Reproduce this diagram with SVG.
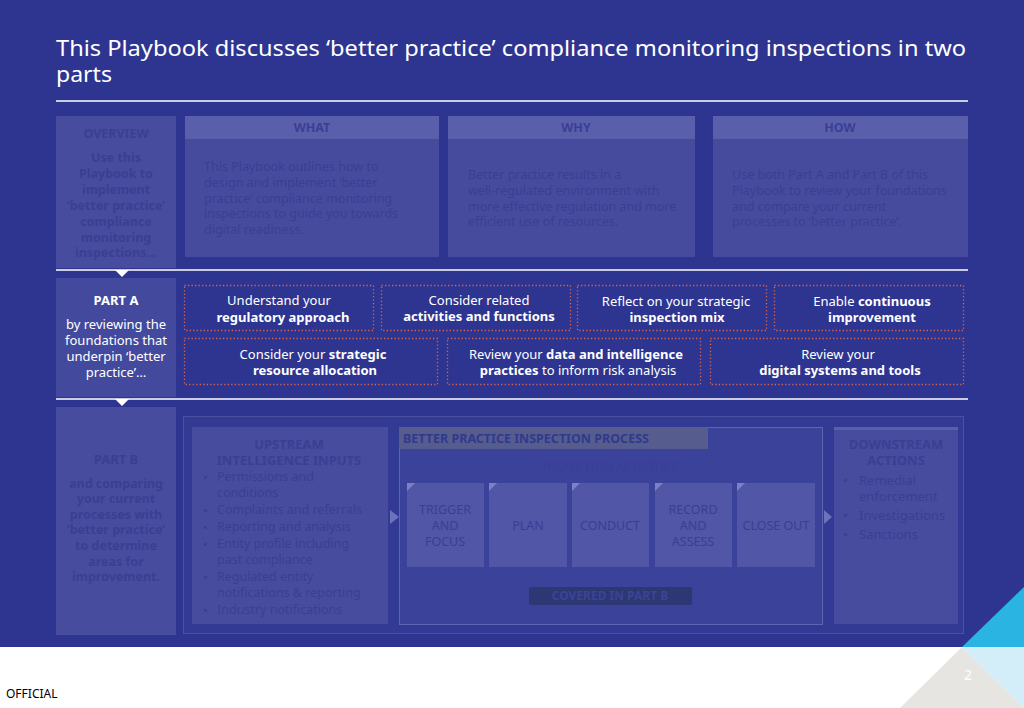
<svg xmlns="http://www.w3.org/2000/svg" width="1024" height="708" viewBox="0 0 1024 708">
<defs>
<style>
text{font-family:"Noto Sans","Open Sans","Liberation Sans",sans-serif}
.t{fill:#fff}
.f{fill:#3A3F95}
.fb{fill:#3A3F95;font-weight:bold}
.b{font-weight:bold}
.c{text-anchor:middle}
.dot{fill:none;stroke:#D9634F;stroke-width:1.3;stroke-dasharray:1.3 2.2}
.act{fill:#5156A6}
.corner{fill:#7C81C6}
.arw{fill:#6D72BC}
</style>
</defs>
<rect x="0" y="0" width="1024" height="708" fill="#fff"/>
<rect x="0" y="0" width="1024" height="647" fill="#2E3590"/>
<!-- decoration bottom right -->
<polygon points="1024,587 962,647 1024,647" fill="#29B4E1"/>
<polygon points="962,647 1024,647 1024,708" fill="#D3EEF8"/>
<polygon points="962,647 900,708 1024,708" fill="#E6E5E1"/>
<text x="968" y="680" font-size="14" fill="#fff" class="c">2</text>
<text x="6" y="698" font-size="12" fill="#000">OFFICIAL</text>

<!-- title -->
<g id="title">
<text x="56" y="56" font-size="22" class="t" textLength="910" lengthAdjust="spacingAndGlyphs">This Playbook discusses ‘better practice’ compliance monitoring inspections in two</text>
<text x="56" y="82" font-size="22" class="t" textLength="56" lengthAdjust="spacingAndGlyphs">parts</text>
</g>
<g id="dividers">
<line x1="56" y1="101" x2="968" y2="101" stroke="#fff" stroke-width="1.5"/>
<line x1="56" y1="270" x2="968" y2="270" stroke="#fff" stroke-width="1.5"/>
<polygon points="115,270 129,270 122,277" fill="#fff"/>
<line x1="56" y1="399" x2="968" y2="399" stroke="#fff" stroke-width="1.5"/>
<polygon points="115,399 129,399 122,406" fill="#fff"/>
</g>

<!-- overview -->
<g id="overview">
<rect x="56" y="116" width="120" height="152" fill="#474C9E"/>
<text x="116" y="138" font-size="12.5" class="fb c">OVERVIEW</text>
<g font-size="12.5" class="fb c">
<text x="116" y="162">Use this</text>
<text x="116" y="178">Playbook to</text>
<text x="116" y="194">implement</text>
<text x="116" y="210">‘better practice’</text>
<text x="116" y="226">compliance</text>
<text x="116" y="242">monitoring</text>
<text x="116" y="257">inspections…</text>
</g>
</g>
<g id="what">
<rect x="185" y="116" width="254" height="141" fill="#464B9E"/>
<rect x="185" y="116" width="254" height="23" fill="#5A5FAB"/>
<text x="312" y="132" font-size="12.5" class="fb c">WHAT</text>
<g font-size="12.5" class="f">
<text x="204" y="171">This Playbook outlines how to</text>
<text x="204" y="187">design and implement ‘better</text>
<text x="204" y="203">practice’ compliance monitoring</text>
<text x="204" y="218">inspections to guide you towards</text>
<text x="204" y="234">digital readiness.</text>
</g>
</g>
<g id="why">
<rect x="448" y="116" width="247" height="141" fill="#464B9E"/>
<rect x="448" y="116" width="247" height="23" fill="#5A5FAB"/>
<text x="576" y="132" font-size="12.5" class="fb c">WHY</text>
<g font-size="12.5" class="f">
<text x="468" y="179">Better practice results in a</text>
<text x="468" y="195">well-regulated environment with</text>
<text x="468" y="211">more effective regulation and more</text>
<text x="468" y="226">efficient use of resources.</text>
</g>
</g>
<g id="how">
<rect x="713" y="116" width="255" height="141" fill="#464B9E"/>
<rect x="713" y="116" width="255" height="23" fill="#5A5FAB"/>
<text x="840" y="132" font-size="12.5" class="fb c">HOW</text>
<g font-size="12.5" class="f">
<text x="732" y="179">Use both Part A and Part B of this</text>
<text x="732" y="195">Playbook to review your foundations</text>
<text x="732" y="211">and compare your current</text>
<text x="732" y="226">processes to ‘better practice’.</text>
</g>
</g>

<!-- part A -->
<g id="partA">
<rect x="56" y="278" width="120" height="119" fill="#434A9E"/>
<text x="116" y="305" font-size="13" class="t b c">PART A</text>
<g font-size="13" class="t c">
<text x="116" y="329">by reviewing the</text>
<text x="116" y="345">foundations that</text>
<text x="116" y="361">underpin ‘better</text>
<text x="116" y="377">practice’…</text>
</g>
</g>
<g font-size="13" class="t c">
<g id="a1"><rect class="dot" x="184.5" y="285.5" width="189" height="45"/>
<text x="279" y="305">Understand your</text><text x="283" y="322" class="b">regulatory approach</text></g>
<g id="a2"><rect class="dot" x="381.5" y="285.5" width="189" height="45"/>
<text x="479" y="305">Consider related</text><text x="479" y="321" class="b">activities and functions</text></g>
<g id="a3"><rect class="dot" x="577.5" y="285.5" width="189" height="45"/>
<text x="676" y="306">Reflect on your strategic</text><text x="677" y="322" class="b">inspection mix</text></g>
<g id="a4"><rect class="dot" x="774.5" y="285.5" width="189" height="45"/>
<text x="872" y="306">Enable <tspan class="b">continuous</tspan></text><text x="872" y="322" class="b">improvement</text></g>
<g id="a5"><rect class="dot" x="184.5" y="338.5" width="253" height="46"/>
<text x="313" y="359">Consider your <tspan class="b">strategic</tspan></text><text x="315" y="375" class="b">resource allocation</text></g>
<g id="a6"><rect class="dot" x="447.5" y="338.5" width="253" height="46"/>
<text x="576" y="359">Review your <tspan class="b">data and intelligence</tspan></text><text x="578" y="375"><tspan class="b">practices</tspan> to inform risk analysis</text></g>
<g id="a7"><rect class="dot" x="710.5" y="338.5" width="253" height="46"/>
<text x="838" y="359">Review your</text><text x="840" y="375" class="b">digital systems and tools</text></g>
</g>

<!-- part B -->
<g id="partB">
<rect x="56" y="407" width="120" height="228" fill="#474C9E"/>
<text x="116" y="464" font-size="13" class="fb c">PART B</text>
<g font-size="12.5" class="fb c">
<text x="116" y="488">and comparing</text>
<text x="116" y="503">your current</text>
<text x="116" y="519">processes with</text>
<text x="116" y="534">‘better practice’</text>
<text x="116" y="550">to determine</text>
<text x="116" y="566">areas for</text>
<text x="116" y="581">improvement.</text>
</g>
</g>
<rect x="183.5" y="416.5" width="780" height="217" fill="#323A93" stroke="#4A51A0" stroke-width="1"/>

<g id="upstream">
<rect x="192" y="427" width="196" height="197" fill="#474C9E"/>
<text x="289" y="449" font-size="13" class="fb c">UPSTREAM</text>
<text x="289" y="465" font-size="13" class="fb c">INTELLIGENCE INPUTS</text>
<g font-size="12.5" class="f">
<text x="203" y="482">•</text><text x="217" y="481">Permissions and</text>
<text x="217" y="497">conditions</text>
<text x="203" y="515">•</text><text x="217" y="514">Complaints and referrals</text>
<text x="203" y="532">•</text><text x="217" y="531">Reporting and analysis</text>
<text x="203" y="549">•</text><text x="217" y="548">Entity profile including</text>
<text x="217" y="564">past compliance</text>
<text x="203" y="582">•</text><text x="217" y="581">Regulated entity</text>
<text x="217" y="597">notifications &amp; reporting</text>
<text x="203" y="615">•</text><text x="217" y="614">Industry notifications</text>
</g>
</g>

<g id="connectors">
<polygon class="arw" points="390,510 399,517 390,524"/>
<polygon class="arw" points="824,510 832,517 824,524"/>
<line x1="407" y1="595" x2="815" y2="595" stroke="#6D72BC" stroke-width="1"/>
</g>

<g id="process">
<rect x="399.5" y="427.5" width="423" height="197" fill="#3B4299" stroke="#5E64B0" stroke-width="1"/>
<rect x="399" y="427" width="309" height="22" fill="#575C8F"/>
<text x="403" y="443" font-size="12.5" fill="#2F3A8C" class="b">BETTER PRACTICE INSPECTION PROCESS</text>
<text x="610" y="471" font-size="12" class="f c">INSPECTION ACTIVITIES</text>
</g>
<g font-size="12.5" class="f c">
<g id="trigger"><rect class="act" x="407" y="483" width="77" height="84"/><polygon class="corner" points="407,483 415,483 407,491"/>
<text x="445" y="514">TRIGGER</text><text x="445" y="530">AND</text><text x="445" y="546">FOCUS</text></g>
<g id="plan"><rect class="act" x="489" y="483" width="78" height="84"/><polygon class="corner" points="489,483 497,483 489,491"/>
<text x="528" y="530">PLAN</text></g>
<g id="conduct"><rect class="act" x="572" y="483" width="77" height="84"/><polygon class="corner" points="572,483 580,483 572,491"/>
<text x="610" y="530">CONDUCT</text></g>
<g id="record"><rect class="act" x="655" y="483" width="77" height="84"/><polygon class="corner" points="655,483 663,483 655,491"/>
<text x="693" y="514">RECORD</text><text x="693" y="530">AND</text><text x="693" y="546">ASSESS</text></g>
<g id="close"><rect class="act" x="737" y="483" width="78" height="84"/><polygon class="corner" points="737,483 745,483 737,491"/>
<text x="776" y="530">CLOSE OUT</text></g>
</g>
<g id="covered">
<rect x="529" y="587" width="163" height="18" fill="#2D3774"/>
<text x="610" y="600" font-size="12" fill="#3B4496" class="b c">COVERED IN PART B</text>
</g>

<g id="downstream">
<rect x="834" y="427" width="124" height="197" fill="#474C9E"/>
<rect x="834" y="427" width="124" height="3" fill="#5A5FAB"/>
<text x="896" y="449" font-size="13" class="fb c">DOWNSTREAM</text>
<text x="896" y="465" font-size="13" class="fb c">ACTIONS</text>
<g font-size="13" class="f">
<text x="843" y="485">•</text><text x="859" y="485">Remedial</text>
<text x="859" y="501">enforcement</text>
<text x="843" y="520">•</text><text x="859" y="520">Investigations</text>
<text x="843" y="539">•</text><text x="859" y="539">Sanctions</text>
</g>
</g>
</svg>
